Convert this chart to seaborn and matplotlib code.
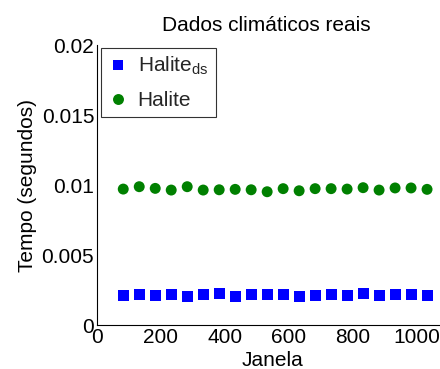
import matplotlib
matplotlib.use("Agg")
import matplotlib.pyplot as plt
import seaborn as sns
import pandas as pd

janela = [82, 132, 182, 232, 282, 332, 382, 432, 482, 532,
          582, 632, 682, 732, 782, 832, 882, 932, 982, 1032]
halite_ds = [0.00214, 0.00221, 0.00214, 0.00221, 0.00207, 0.00221, 0.00226, 0.00207, 0.00221, 0.00221,
             0.00221, 0.00202, 0.00214, 0.00221, 0.00214, 0.00226, 0.00214, 0.00221, 0.00221, 0.00214]
halite = [0.00971, 0.00988, 0.00976, 0.00964, 0.00988, 0.00964, 0.00966, 0.00969, 0.00966, 0.00952,
          0.00974, 0.00959, 0.00974, 0.00974, 0.00971, 0.00981, 0.00964, 0.00979, 0.00979, 0.00969]
series_names = [r'Halite$_{\mathregular{ds}}$', 'Halite']
xticks = [0, 200, 400, 600, 800, 1000]
yticks = [0, 0.005, 0.01, 0.015, 0.02]
yticklabels = ['0', '0.005', '0.01', '0.015', '0.02']

sns.set_theme(style="white")
plt.rcParams['font.family'] = ['Liberation Sans', 'DejaVu Sans']
plt.rcParams['mathtext.fontset'] = 'custom'
plt.rcParams['mathtext.rm'] = 'Liberation Sans'
plt.rcParams['mathtext.it'] = 'Liberation Sans'

df = pd.DataFrame({
    'Janela': janela * 2,
    'Tempo': halite_ds + halite,
    'Serie': [series_names[0]] * len(janela) + [series_names[1]] * len(janela),
})

fig = plt.figure(figsize=(4.4, 3.69), dpi=100)
ax = fig.add_axes([0.2205, 0.1192, 0.7795 + 0.02, 0.7588])

sns.scatterplot(data=df, x='Janela', y='Tempo', hue='Serie', style='Serie',
                palette={series_names[0]: '#0000ff', series_names[1]: '#008000'},
                markers={series_names[0]: 's', series_names[1]: 'o'},
                s=62, linewidth=0, ax=ax)

ax.set_xlim(0, 1100)
ax.set_ylim(0, 0.02)
ax.set_xticks(xticks)
ax.set_xticklabels([str(t) for t in xticks])
ax.set_yticks(yticks)
ax.set_yticklabels(yticklabels)
ax.tick_params(direction='in', length=4, width=0.8, labelsize=15, colors='black', pad=2)
for side in ['top', 'right']:
    ax.spines[side].set_visible(False)
for side in ['left', 'bottom']:
    ax.spines[side].set_color('black')
    ax.spines[side].set_linewidth(0.8)

ax.set_xlabel('Janela', fontsize=15, labelpad=3, color='black')
ax.set_ylabel('Tempo (segundos)', fontsize=15, labelpad=3, color='black')
ax.set_title('Dados climáticos reais', fontsize=15, pad=10, color='black', x=0.48)

leg = ax.legend(loc='upper left', bbox_to_anchor=(0.012, 0.99), borderaxespad=0, fontsize=15,
                frameon=True, fancybox=False, edgecolor='black', handletextpad=0.5,
                borderpad=0.35, labelspacing=0.65, handlelength=0.9, markerscale=1.0)
leg.get_frame().set_linewidth(0.8)

fig.savefig('out.png', dpi=100)
